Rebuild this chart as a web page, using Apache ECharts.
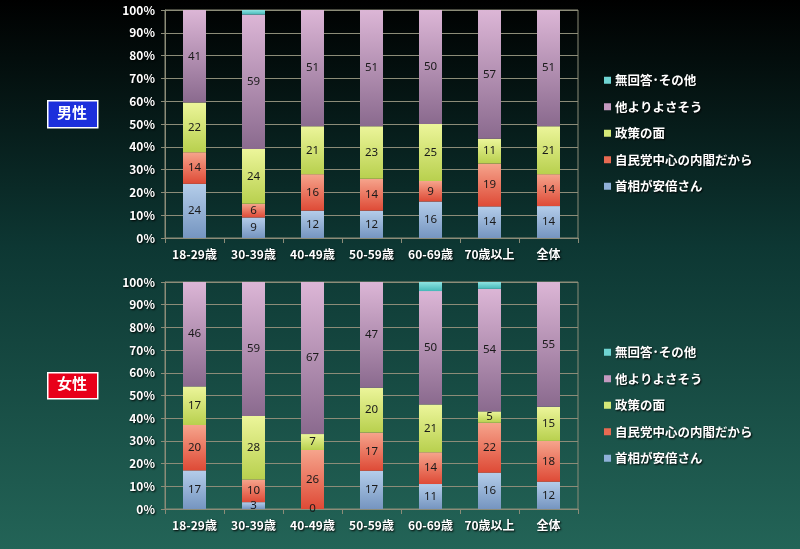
<!DOCTYPE html>
<html><head><meta charset="utf-8">
<script src="https://cdn.jsdelivr.net/npm/echarts@6/dist/echarts.min.js"></script>
<style>html,body{margin:0;padding:0;background:#000}#c{width:800px;height:549px}</style>
</head><body><div id="c"></div>
<script>
const categories = ['18-29歳','30-39歳','40-49歳','50-59歳','60-69歳','70歳以上','全体'];
const seriesNames = ['首相が安倍さん','自民党中心の内閣だから','政策の面','他よりよさそう','無回答･その他'];
const yTickLabels = ['0%','10%','20%','30%','40%','50%','60%','70%','80%','90%','100%'];
// 男性
const maleAbe    = [24, 9, 12, 12, 16, 14, 14];
const maleLdp    = [14, 6, 16, 14,  9, 19, 14];
const malePolicy = [22,24, 21, 23, 25, 11, 21];
const maleBetter = [41,59, 51, 51, 50, 57, 51];
const maleOther  = [ 0, 2,  0,  0,  0,  0,  0];
// 女性
const femAbe    = [17, 3,  0, 17, 11, 16, 12];
const femLdp    = [20,10, 26, 17, 14, 22, 18];
const femPolicy = [17,28,  7, 20, 21,  5, 15];
const femBetter = [46,59, 67, 47, 50, 54, 55];
const femOther  = [ 0, 0,  0,  0,  4,  3,  0];

const colors = [
  ['#b4cdea','#7595c0'],
  ['#f6a48c','#de4a36'],
  ['#ecf59a','#b8d04e'],
  ['#dcb6d6','#8a6a8e'],
  ['#8ee4e2','#45b8b8']
];
const legendColors = ['#8fb0d8','#e86a52','#d4e878','#c49ac0','#6fd4d2'];
const grad = c => ({type:'linear',x:0,y:0,x2:0,y2:1,colorStops:[{offset:0,color:c[0]},{offset:1,color:c[1]}]});

function build(sets, gi){
  const totals = categories.map((_,i)=>sets.reduce((s,a)=>s+a[i],0));
  return sets.map((arr,k)=>({
    name: seriesNames[k], type:'bar', stack:'s'+gi, xAxisIndex:gi, yAxisIndex:gi,
    barWidth:23,
    itemStyle:{color:grad(colors[k])},
    label:{show:k<4, position:'inside', color:'#1a1a1a', fontSize:11.5,
      fontFamily:'"Noto Sans","DejaVu Sans",sans-serif',
      formatter:p=>String(arr[p.dataIndex])},
    data: arr.map((v,i)=>v/totals[i]*100)
  }));
}
const series = build([maleAbe,maleLdp,malePolicy,maleBetter,maleOther],0)
  .concat(build([femAbe,femLdp,femPolicy,femBetter,femOther],1));

const lineCol = '#8c8c78';
const font = '"Noto Sans CJK JP","Noto Sans",sans-serif';
function xAx(gi){return {type:'category',gridIndex:gi,data:categories,
  axisLine:{lineStyle:{color:lineCol}}, axisTick:{show:true,length:5,lineStyle:{color:lineCol}},
  axisLabel:{show:true, interval:0, color:'#fff',fontWeight:'bold',fontSize:12,fontFamily:font,margin:10,
    textShadowColor:'#000',textShadowBlur:2,textShadowOffsetX:1,textShadowOffsetY:1}};}
function yAx(gi){return {type:'value',gridIndex:gi,min:0,max:100,interval:10,
  axisLine:{show:true,lineStyle:{color:lineCol}}, axisTick:{show:true,length:4,lineStyle:{color:lineCol}},
  splitLine:{lineStyle:{color:lineCol}},
  axisLabel:{color:'#fff',fontWeight:'bold',fontSize:12,fontFamily:font,margin:10,
    formatter:v=>yTickLabels[Math.round(v/10)],
    textShadowColor:'#000',textShadowBlur:2,textShadowOffsetX:1,textShadowOffsetY:1}};}

function legend(top){return {orient:'vertical',left:599,top:top,itemWidth:7,itemHeight:7,itemGap:14,
  icon:'rect', data:seriesNames.slice().reverse().map((n,i)=>({name:n,itemStyle:{color:legendColors[4-i]}})),
  textStyle:{color:'#fff',fontWeight:'bold',fontSize:12.5,fontFamily:font,padding:[0,0,0,-1],
    textShadowColor:'#000',textShadowBlur:2,textShadowOffsetX:1,textShadowOffsetY:1}};}

const chart = echarts.init(document.getElementById('c'));
chart.setOption({
  backgroundColor:{type:'linear',x:0,y:0,x2:0,y2:1,colorStops:[
    {offset:0,color:'#000000'},{offset:0.45,color:'#0d3733'},{offset:1,color:'#236457'}]},
  animation:false,
  grid:[
    {left:165,right:222,top:10,height:228,show:true,borderColor:lineCol,borderWidth:1,backgroundColor:'transparent'},
    {left:165,right:222,top:282,height:227,show:true,borderColor:lineCol,borderWidth:1,backgroundColor:'transparent'}
  ],
  xAxis:[xAx(0),xAx(1)],
  yAxis:[yAx(0),yAx(1)],
  legend:[legend(69),legend(341)],
  graphic:[
    {type:'rect',left:47,top:100,shape:{width:50,height:27},style:{fill:'#1c2fdc',stroke:'#fff',lineWidth:1.5}},
    {type:'text',left:57,top:105,style:{text:'男性',fill:'#fff',font:'bold 15px "Noto Sans CJK JP"'}},
    {type:'rect',left:47,top:372,shape:{width:50,height:26},style:{fill:'#e8001a',stroke:'#fff',lineWidth:1.5}},
    {type:'text',left:57,top:376,style:{text:'女性',fill:'#fff',font:'bold 15px "Noto Sans CJK JP"'}}
  ],
  series: series
});
</script></body></html>
